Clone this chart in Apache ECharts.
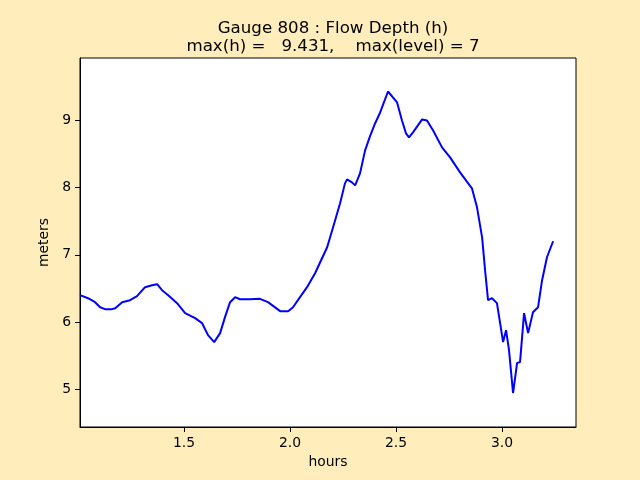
<!DOCTYPE html>
<html>
<head>
<meta charset="utf-8">
<script src="https://cdn.jsdelivr.net/npm/echarts@6/dist/echarts.min.js"></script>
<style>html,body{margin:0;padding:0;background:#ffeebb;}#c{width:640px;height:480px;}</style>
</head>
<body>
<div id="c"></div>
<script>
const hours = [1.009,1.047,1.080,1.104,1.127,1.160,1.175,1.208,1.245,1.278,1.316,1.349,1.373,1.396,1.425,1.467,1.505,1.552,1.585,1.613,1.642,1.670,1.693,1.717,1.741,1.764,1.811,1.858,1.896,1.953,1.991,2.014,2.047,2.080,2.118,2.175,2.203,2.236,2.259,2.269,2.292,2.307,2.330,2.354,2.377,2.401,2.425,2.462,2.505,2.528,2.547,2.561,2.580,2.623,2.646,2.675,2.717,2.755,2.802,2.858,2.882,2.906,2.920,2.934,2.953,2.976,2.991,3.005,3.019,3.033,3.052,3.071,3.085,3.104,3.123,3.146,3.170,3.189,3.212,3.241];
const depth = [6.398,6.353,6.294,6.219,6.190,6.190,6.204,6.294,6.323,6.383,6.517,6.546,6.561,6.472,6.398,6.279,6.130,6.056,5.981,5.803,5.699,5.833,6.071,6.294,6.368,6.338,6.338,6.343,6.294,6.160,6.160,6.219,6.368,6.517,6.725,7.112,7.409,7.766,8.063,8.123,8.078,8.033,8.212,8.554,8.762,8.955,9.119,9.431,9.268,9.000,8.807,8.747,8.822,9.015,9.000,8.851,8.599,8.450,8.227,7.989,7.706,7.260,6.770,6.323,6.353,6.279,5.981,5.699,5.877,5.580,4.941,5.387,5.401,6.130,5.833,6.145,6.219,6.621,6.963,7.201];
const xTicks = [1.5, 2.0, 2.5, 3.0];
const yTicks = [5, 6, 7, 8, 9];
const titleLines = ['Gauge 808 : Flow Depth (h)', 'max(h) =   9.431,    max(level) = 7'];

const font = 'DejaVu Sans';
const chart = echarts.init(document.getElementById('c'), null, {renderer: 'canvas'});
chart.setOption({
  backgroundColor: '#ffeebb',
  animation: false,
  title: {
    text: titleLines.join('\n'),
    left: 328, top: 15, textAlign: 'center',
    textStyle: {fontFamily: font, fontSize: 16.67, fontWeight: 'normal', color: '#000', lineHeight: 17.5}
  },
  grid: {left: 80, right: 64, top: 58, bottom: 53, show: true, backgroundColor: '#ffffff', borderColor: '#000', borderWidth: 1},
  xAxis: {
    type: 'value', min: 1.009, max: 3.349,
    name: 'hours', nameLocation: 'middle', nameGap: 28,
    nameTextStyle: {fontFamily: font, fontSize: 13.9, color: '#000'},
    axisLine: {show: true, onZero: false, lineStyle: {color: '#000', width: 1}},
    axisTick: {show: true, inside: false, length: 5, lineStyle: {color: '#000'}, customValues: xTicks},
    axisLabel: {margin: 9, fontFamily: font, fontSize: 13.9, color: '#000', customValues: xTicks, formatter: v => v.toFixed(1)},
    splitLine: {show: false}
  },
  yAxis: {
    type: 'value', min: 4.435, max: 9.93,
    name: 'meters', nameLocation: 'middle', nameGap: 25, nameRotate: 90,
    nameTextStyle: {fontFamily: font, fontSize: 13.9, color: '#000'},
    axisLine: {show: true, onZero: false, lineStyle: {color: '#000', width: 1}},
    axisTick: {show: true, inside: false, length: 5, lineStyle: {color: '#000'}, customValues: yTicks},
    axisLabel: {margin: 9, fontFamily: font, fontSize: 13.9, color: '#000', customValues: yTicks, formatter: v => String(v)},
    splitLine: {show: false}
  },
  series: [{
    type: 'line', showSymbol: false, smooth: false,
    data: hours.map((h, i) => [h, depth[i]]),
    lineStyle: {color: '#0000ff', width: 2}
  }]
});
</script>
</body>
</html>
